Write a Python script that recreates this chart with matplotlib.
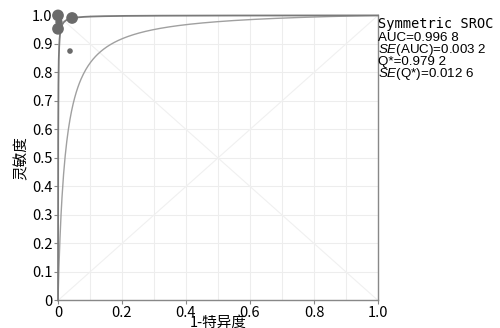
import numpy as np
import matplotlib
matplotlib.use("Agg")
import matplotlib.pyplot as plt

plt.rcParams['font.family'] = ['Noto Sans CJK SC', 'DejaVu Sans']
plt.rcParams['mathtext.fontset'] = 'custom'
plt.rcParams['mathtext.rm'] = 'Liberation Sans'
plt.rcParams['mathtext.it'] = 'Liberation Sans:italic'

# study points (1-specificity, sensitivity) and marker weight
fpr_pts = [0.0, 0.044, 0.0, 0.003, 0.0375]
tpr_pts = [1.0, 0.991, 0.953, 0.977, 0.875]
pt_size = [55, 55, 55, 18, 9]

# summary statistics shown on the chart
q_star = 0.9792
q_light = 0.870
stat_title = "Symmetric SROC"
stat_lines = ["AUC=0.996 8", r"$\mathit{SE}$(AUC)=0.003 2",
              "Q*=0.979 2", r"$\mathit{SE}$(Q*)=0.012 6"]

ticks = [0, 0.2, 0.4, 0.6, 0.8, 1.0]
tick_labels = ["0", "0.2", "0.4", "0.6", "0.8", "1.0"]
yticks = [0, 0.1, 0.2, 0.3, 0.4, 0.5, 0.6, 0.7, 0.8, 0.9, 1.0]
ytick_labels = ["0", "0.1", "0.2", "0.3", "0.4", "0.5", "0.6", "0.7", "0.8", "0.9", "1.0"]


def sroc(q, fpr):
    # symmetric Moses-Littenberg curve, D = 2*logit(Q*)
    a = 2 * np.log(q / (1 - q))
    return 1 / (1 + np.exp(-a) * (1 - fpr) / fpr)


fig = plt.figure(figsize=(5, 3.28), dpi=100)
ax = fig.add_axes([0.116, 0.084, 0.64, 0.869])

for v in np.arange(0.1, 1.0, 0.1):
    ax.axvline(v, color="#ededed", lw=0.8, zorder=0)
    ax.axhline(v, color="#ededed", lw=0.8, zorder=0)
ax.plot([0, 1], [0, 1], color="#f0f0f0", lw=0.8, zorder=0)
ax.plot([0, 1], [1, 0], color="#f0f0f0", lw=0.8, zorder=0)

f = np.concatenate([np.linspace(1e-6, 0.01, 400), np.linspace(0.01, 1, 400)])
ax.plot(np.concatenate([[0], f]), np.concatenate([[0], sroc(q_light, f)]),
        color="#a0a0a0", lw=1.0, zorder=2)
ax.plot(np.concatenate([[0], f]), np.concatenate([[0], sroc(q_star, f)]),
        color="#7a7a7a", lw=1.3, zorder=3, clip_on=False)

ax.scatter(fpr_pts, tpr_pts, s=pt_size, color="#6a6a6a", zorder=4, clip_on=False)

ax.set_xlim(0, 1)
ax.set_ylim(0, 1)
ax.set_xticks(ticks)
ax.set_xticklabels(tick_labels)
ax.set_yticks(yticks)
ax.set_yticklabels(ytick_labels)
ax.tick_params(labelsize=10.5, color="#888888", length=3, pad=1)
for s in ["top", "left"]:
    ax.spines[s].set_visible(False)
for s in ["right", "bottom"]:
    ax.spines[s].set_color("#888888")
    ax.spines[s].set_linewidth(1.0)

ax.set_xlabel("1-特异度", fontsize=10.5, labelpad=-2.7)
ax.set_ylabel("灵敏度", fontsize=10.5, labelpad=2)

fig.text(0.757, 0.915, stat_title, family="DejaVu Sans Mono", fontsize=9.8, va="baseline")
fig.text(0.757, 0.902, "\n".join(stat_lines), family="Liberation Sans",
         fontsize=9.6, va="top", linespacing=0.8)

fig.savefig("out.png", dpi=100)
